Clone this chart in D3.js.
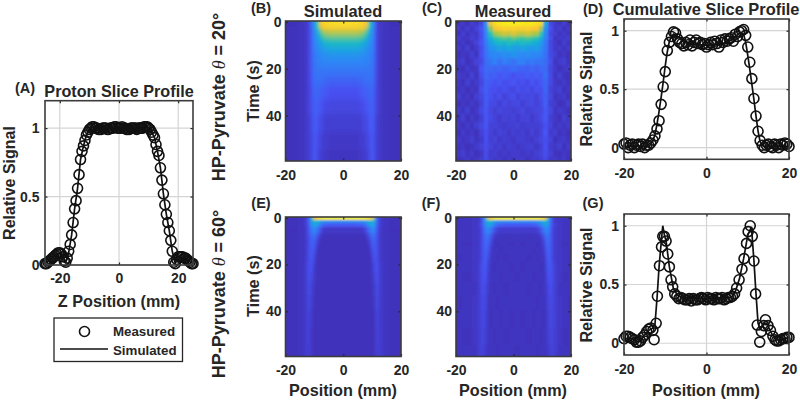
<!DOCTYPE html>
<html>
<head>
<meta charset="utf-8">
<script src="https://cdn.jsdelivr.net/npm/d3@7"></script>
<style>
  body { margin: 0; background: #fff; }
  svg text { font-family: "Liberation Sans", Arial, sans-serif; font-weight: bold; fill: #262626; }
  .tick text { font-size: 14px; }
</style>
</head>
<body>
<svg id="fig" width="800" height="402"></svg>
<script>
// (A) proton slice profile
const protonZ = [-25,-24.5,-24,-23.5,-23,-22.5,-22,-21.5,-21,-20.5,-20,-19.5,-19,-18.5,-18,-17.5,-17,-16.5,-16,-15.5,-15,-14.5,-14,-13.5,-13,-12.5,-12,-11.5,-11,-10.5,-10,-9.5,-9,-8.5,-8,-7.5,-7,-6.5,-6,-5.5,-5,-4.5,-4,-3.5,-3,-2.5,-2,-1.5,-1,-0.5,0,0.5,1,1.5,2,2.5,3,3.5,4,4.5,5,5.5,6,6.5,7,7.5,8,8.5,9,9.5,10,10.5,11,11.5,12,12.5,13,13.5,14,14.5,15,15.5,16,16.5,17,17.5,18,18.5,19,19.5,20,20.5,21,21.5,22,22.5,23,23.5,24,24.5,25];
const protonMeasured = [.01,.01,.02,.03,.04,.05,.06,.07,.08,.09,.09,.08,.06,.03,.02,.05,.1,.15,.22,.31,.41,.47,.56,.66,.77,.83,.87,.91,.95,.97,.99,1,1.01,1.01,1,1,.99,.99,.99,1,1,1,.99,.99,1,1,1,1.01,1.01,1,1,1,1.01,1,1,.99,.99,.99,1,1,1,1,.99,1,1,1,1,1.01,1.01,1.01,1,.99,.97,.95,.93,.88,.83,.8,.71,.62,.52,.44,.37,.31,.25,.18,.1,.02,.01,.04,.06,.06,.06,.06,.05,.05,.04,.03,.02,.01,.01];
const protonSimZ = [-25,-22,-20,-19,-18,-17,-16,-15,-14,-13,-12,-11,-10,-9,-5,0,5,9,10,11,12,13,14,15,16,17,18,19,20,22,25];
const protonSim = [.01,.06,.09,.06,.02,.09,.22,.41,.56,.77,.87,.95,.99,1.01,1,1,1,1.01,1,.97,.93,.83,.71,.52,.37,.25,.1,.01,.06,.05,.01];

// (D) cumulative slice profile, 20 deg
const cum20X = [-20,-19.5,-19,-18.5,-18,-17.5,-17,-16.5,-16,-15.5,-15,-14.5,-14,-13.5,-13,-12.5,-12,-11.5,-11,-10.5,-10,-9.5,-9,-8.5,-8,-7.5,-7,-6.5,-6,-5.5,-5,-4.5,-4,-3.5,-3,-2.5,-2,-1.5,-1,-0.5,0,0.5,1,1.5,2,2.5,3,3.5,4,4.5,5,5.5,6,6.5,7,7.5,8,8.5,9,9.5,10,10.5,11,11.5,12,12.5,13,13.5,14,14.5,15,15.5,16,16.5,17,17.5,18,18.5,19,19.5,20];
const cum20Measured = [.03,.04,.0,.02,.03,.0,.02,.03,.01,.03,.0,.02,.02,.04,.065,.1,.16,.23,.37,.52,.65,.83,.9,.95,.99,.98,.93,.9,.89,.87,.9,.88,.92,.87,.9,.92,.89,.9,.88,.89,.86,.88,.9,.88,.91,.89,.86,.92,.9,.93,.91,.93,.94,.91,.97,.95,.99,1.0,1.01,.96,.86,.73,.59,.42,.27,.14,.06,.02,.0,.02,.03,.01,.0,.03,.02,.0,.03,.02,.04,.03,.01];
const cum20SimX = [-20,-14,-13.5,-13,-12.5,-12,-11.5,-11,-10.5,-10,-9.5,-9,-8.5,-8,-7,-6,-4,0,4,6,7,8,8.5,9,9.5,10,10.5,11,11.5,12,12.5,13,13.5,14,20];
const cum20Sim = [.01,.01,.03,.06,.11,.2,.31,.43,.56,.7,.82,.91,.95,.97,.95,.92,.89,.875,.89,.92,.95,.98,.98,.97,.9,.79,.67,.54,.41,.27,.14,.05,.02,.01,.01];

// (G) cumulative slice profile, 60 deg
const cum60X = [-20,-19.5,-19,-18.5,-18,-17.5,-17,-16.5,-16,-15.5,-15,-14.5,-14,-13.5,-13,-12.7,-12.2,-11.9,-11.4,-10.9,-10.6,-10.2,-9.8,-9.4,-9,-8.6,-8.2,-7.7,-7.2,-6.7,-6.2,-5.7,-5.2,-4.7,-4.2,-3.7,-3.2,-2.7,-2.2,-1.7,-1.2,-.7,-.2,.3,.8,1.3,1.8,2.3,2.8,3.3,3.8,4.3,4.8,5.3,5.8,6.3,6.8,7.3,7.9,8.6,9.1,9.7,10.1,10.6,11.1,11.5,11.9,12.3,12.9,13.3,13.9,14.3,14.9,15.5,16.1,16.6,17,17.5,18,18.5,19,19.5,20];
const cum60Measured = [.04,.06,.06,.05,.04,.03,.01,.01,.02,.05,.07,.1,.12,.13,.11,.03,.17,.4,.66,.82,.91,.91,.87,.76,.65,.54,.48,.42,.4,.38,.39,.38,.37,.37,.38,.36,.38,.37,.37,.38,.39,.38,.37,.39,.38,.38,.37,.39,.38,.38,.39,.37,.38,.39,.39,.4,.42,.47,.54,.63,.72,.85,.95,1,.91,.7,.42,.155,.01,.1,.15,.2,.15,.11,.06,.03,.02,.02,.03,.04,.04,.05,.05];
const cum60SimX = [-20,-18,-17,-16,-15,-14,-13,-12.5,-12,-11.5,-11,-10.6,-10.2,-9.8,-9,-8,-7,-6,0,6,7,8,9,10,10.9,11.5,12,12.5,13,14,14.5,15,16,17,18,20];
const cum60Sim = [.04,.04,.01,.02,.07,.11,.13,.16,.38,.65,.85,1,.92,.87,.65,.46,.41,.39,.38,.39,.44,.55,.72,.92,.99,.7,.42,.17,.12,.17,.17,.14,.07,.03,.03,.05];

// heatmaps, values in percent of the colour range
const simHalfColumns = [-20,-17,-14.5,-13,-12,-11,-10,-9,-8,-7,-6,-4,-2,0];
const simTimes = [.5,1.5,3,5,7,9,11,14,17,21,25,30,36,43,51,58];
const sim20Half = [
  [3,3,4,5,8,18,30,50,76,84,88,90,91,91],
  [3,3,4,5,8,17,30,46,68,76,79,80,80,80],
  [3,3,4,5,8,17,28,40,58,68,71,72,72,72],
  [3,3,4,5,8,16,26,34,46,55,60,62,62,62],
  [3,3,4,5,8,16,25,31,39,45,48,50,50,50],
  [3,3,4,5,8,16,24,28,33,37,40,42,42,42],
  [3,3,4,5,8,15,23,26,29,32,34,36,36,36],
  [3,3,4,5,8,15,22,24,26,27,28,29,29,29],
  [3,3,4,5,8,15,21,23,24,24,25,25,25,25],
  [3,3,4,5,8,14,20,21,21,21,21,21,21,21],
  [3,3,4,5,8,13,19,19,19,18,17,16,16,16],
  [3,3,4,5,8,12,17,17,16,15,13,12,12,12],
  [3,3,4,5,8,11,16,15,13,11,10,9,9,9],
  [3,3,4,5,7,10,15,13,10,9,7,7,7,7],
  [3,3,4,5,7,9,14,11,8,7,6,5,5,5],
  [3,3,4,5,7,9,14,10,7,6,5,4,4,4]
];
const sim60Half = [
  [3,3,4,6,14,35,70,85,92,95,96,96,96,96],
  [3,3,4,6,14,30,40,38,32,28,27,26,26,26],
  [3,3,4,6,13,27,34,30,22,17,15,14,14,14],
  [3,3,4,5,12,22,25,20,11,6,5,5,5,5],
  [3,3,4,5,11,18,20,14,6,3,3,3,3,3],
  [3,3,4,5,10,17,17,9,4,3,3,3,3,3],
  [3,3,4,5,10,16,14,6,3,3,3,3,3,3],
  [3,3,4,5,10,15,11,4,3,3,3,3,3,3],
  [3,3,4,5,10,14,8,3,3,3,3,3,3,3],
  [3,3,4,6,11,12,6,3,3,3,3,3,3,3],
  [3,3,4,6,11,10,5,3,3,3,3,3,3,3],
  [3,3,4,6,10,8,4,3,3,3,3,3,3,3],
  [3,3,4,6,9,7,3,3,3,3,3,3,3,3],
  [3,3,4,6,8,6,3,3,3,3,3,3,3,3],
  [3,3,4,6,8,5,3,3,3,3,3,3,3,3],
  [3,3,4,6,7,5,3,3,3,3,3,3,3,3]
];

const meas20Columns = [-19.2,-17.6,-16,-14.4,-12.8,-11.2,-9.6,-8,-6.4,-4.8,-3.2,-1.6,0,1.6,3.2,4.8,6.4,8,9.6,11.2,12.8,14.4,16,17.6,19.2];
const meas20Times = [1,3,5,7,9,11,14,17,20,23,26,29,32,35,38,41,44,47,50,53,56,59];
const meas20 = [
  [4,6,3,7,5,9,30,72,88,92,93,94,95,94,93,92,93,90,85,35,10,6,4,7,3],
  [6,3,7,4,8,13,28,58,74,78,82,80,83,80,79,82,78,75,62,28,12,5,7,3,6],
  [3,7,4,6,5,12,25,46,60,64,68,66,70,66,65,68,64,62,48,26,9,7,4,6,4],
  [7,4,5,8,6,11,24,38,46,50,54,50,55,52,50,53,50,46,38,24,11,4,6,5,7],
  [4,6,3,5,8,13,22,32,38,42,40,44,42,40,43,41,40,36,32,22,9,6,3,7,4],
  [6,4,7,3,6,11,21,28,30,34,32,36,33,31,34,32,30,32,27,21,10,5,6,4,6],
  [3,5,4,7,4,12,20,24,26,25,28,26,29,27,25,27,26,25,24,20,10,7,4,5,3],
  [5,7,3,5,8,10,19,21,24,20,23,22,20,23,24,21,22,20,21,19,11,4,6,7,4],
  [4,3,6,4,5,13,18,18,17,18,16,17,19,17,17,16,18,16,18,18,9,6,3,5,6],
  [6,5,4,8,4,11,18,15,16,13,15,14,12,14,13,15,13,15,14,19,10,4,7,4,3],
  [5,3,7,4,6,9,16,14,12,14,11,12,13,11,12,10,13,11,14,17,10,5,4,6,4],
  [4,6,3,5,4,11,16,12,12,10,12,10,9,12,10,11,9,12,11,17,8,6,7,3,5],
  [7,4,5,3,7,9,15,12,9,11,8,10,11,8,10,9,10,8,11,15,9,4,5,6,3],
  [3,5,4,6,4,8,15,10,10,7,10,8,9,10,7,9,10,8,10,15,7,6,3,4,7],
  [6,4,7,3,5,10,14,9,7,9,8,8,7,8,9,7,8,9,9,14,9,4,6,5,3],
  [4,7,3,6,4,7,13,10,8,6,8,7,8,6,8,8,6,8,10,14,7,5,3,7,5],
  [5,3,6,4,7,9,13,8,8,7,6,7,7,8,6,7,7,7,8,12,8,4,6,4,6],
  [3,6,4,5,3,8,12,8,6,8,7,5,7,6,7,5,8,6,8,13,6,7,4,5,3],
  [6,4,5,7,4,6,12,7,8,5,7,6,5,7,7,6,5,7,9,11,8,3,5,6,4],
  [4,5,3,4,6,8,11,8,6,7,5,7,6,5,6,7,7,5,7,12,6,5,7,3,6],
  [5,7,4,6,3,5,11,6,7,5,6,5,6,6,5,6,5,7,8,11,7,4,3,5,4],
  [3,4,6,3,5,7,10,7,5,6,4,6,5,6,6,4,6,6,7,10,5,6,4,6,3]
];

const meas60Columns = [-20,-16,-13.2,-11.7,-10.7,-9.7,-8.7,-7.7,-6.7,-5.7,-4.7,-2.7,-0.7,1.3,3.3,5.3,7.3,8.3,9.3,10.3,11.3,12.3,13.3,14.3,15.8,18,20];
const meas60Half = [
  [4,4,5,6,14,35,70,85,92,95,96,96,96,96],
  [4,4,5,6,14,30,40,38,32,28,27,26,26,26],
  [4,4,5,7,13,27,34,30,22,17,15,14,14,14],
  [4,4,5,6,12,23,26,20,11,7,6,6,6,6],
  [4,4,5,6,11,20,21,14,6,4,4,4,4,4],
  [4,4,5,6,11,19,18,9,4,4,4,3,4,4],
  [4,3,5,6,11,18,15,7,4,3,4,4,3,4],
  [4,4,5,6,11,17,12,5,4,4,3,4,4,4],
  [3,4,5,6,11,16,9,4,4,3,4,3,4,4],
  [4,4,5,7,12,14,7,4,3,4,4,4,3,4],
  [4,3,5,7,12,12,6,4,4,4,3,4,4,3],
  [4,4,4,7,11,10,5,4,3,4,4,3,4,4],
  [3,4,5,7,10,9,4,4,4,3,4,4,4,4],
  [4,4,5,7,10,8,4,3,4,4,3,4,3,4],
  [4,3,5,7,9,7,4,4,3,4,4,3,4,4],
  [4,4,4,7,8,6,4,4,4,3,4,4,4,3]
];

// parula
const parulaStops = [0,12.5,25,37.5,50,62.5,75,87.5,100];
const parulaColors = ["#3E26A8","#4752F4","#2D87F7","#12B1D6","#37C897","#ABC739","#FEC338","#F5DC24","#F9FB15"];

const xTicks = [-20,0,20];
const timeTicks = [0,20,40];
const signalTicks = [0,0.5,1];

const svg = d3.select("#fig");
const color = d3.scaleLinear().domain(parulaStops).range(parulaColors);
const mirror = row => row.concat(row.slice(0, -1).reverse());
const simColumns = simHalfColumns.concat(simHalfColumns.slice(0, -1).reverse().map(d => -d));

const defs = svg.append("defs");
function blurFilter(id, sx, sy) {
  defs.append("filter").attr("id", id)
    .append("feGaussianBlur").attr("stdDeviation", `${sx} ${sy}`);
}
blurFilter("blurSoft", 1.6, 3);
blurFilter("blurBody", 1.4, 3.5);
blurFilter("blurThin", 1.4, 0.9);
blurFilter("blurNoise", 1.3, 1.5);

function styleAxis(g) {
  g.selectAll(".domain").remove();
  g.selectAll(".tick line").attr("stroke", "#262626").attr("stroke-width", 1.2);
  g.selectAll(".tick text").attr("fill", "#262626");
}

function frameAndTicks(box, x, y, xt, yt, padX, padY) {
  const g = svg.append("g");
  g.append("g").attr("transform", `translate(0,${box.bottom})`)
    .call(d3.axisBottom(x).tickValues(xt).tickSizeInner(-2.5).tickSizeOuter(0).tickPadding(padX).tickFormat(d => String(d)))
    .call(styleAxis);
  g.append("g").attr("transform", `translate(${box.left},0)`)
    .call(d3.axisLeft(y).tickValues(yt).tickSizeInner(-2.5).tickSizeOuter(0).tickPadding(padY).tickFormat(d => String(d)))
    .call(styleAxis);
  g.append("g").attr("transform", `translate(0,${box.top})`)
    .call(d3.axisTop(x).tickValues(xt).tickSizeInner(-2.5).tickSizeOuter(0).tickFormat(""))
    .call(styleAxis);
  g.append("g").attr("transform", `translate(${box.right},0)`)
    .call(d3.axisRight(y).tickValues(yt).tickSizeInner(-2.5).tickSizeOuter(0).tickFormat(""))
    .call(styleAxis);
  g.append("rect").attr("x", box.left).attr("y", box.top)
    .attr("width", box.right - box.left).attr("height", box.bottom - box.top)
    .attr("fill", "none").attr("stroke", "#3c3c3c").attr("stroke-width", 1.6);
}

// cell edges sit half way between the column/row centres
function edges(c) {
  const e = [c[0] - 6];
  for (let i = 1; i < c.length; i++) e.push((c[i - 1] + c[i]) / 2);
  e.push(c[c.length - 1] + 6);
  return e;
}

function heatmap(id, box, columns, times, values, blur, sharpRows, sharpBlur) {
  const x = d3.scaleLinear().domain([-20, 20]).range([box.left, box.right]);
  const y = d3.scaleLinear().domain([-0.3, 59.3]).range([box.top, box.bottom]);
  const xe = edges(columns), ye = edges(times);

  defs.append("clipPath").attr("id", "clip" + id).append("rect")
    .attr("x", box.left).attr("y", box.top)
    .attr("width", box.right - box.left).attr("height", box.bottom - box.top);

  const cells = [];
  values.forEach((row, r) => row.forEach((v, c) => cells.push({ r, c, v })));
  const clipped = svg.append("g").attr("clip-path", `url(#clip${id})`);

  function drawCells(data, filter) {
    clipped.append("g").attr("filter", `url(#${filter})`)
      .selectAll("rect")
      .data(data)
      .join("rect")
      .attr("x", d => x(xe[d.c]))
      .attr("y", d => y(ye[d.r]))
      .attr("width", d => x(xe[d.c + 1]) - x(xe[d.c]) + 0.5)
      .attr("height", d => y(ye[d.r + 1]) - y(ye[d.r]) + 0.5)
      .attr("fill", d => color(d.v))
      .attr("shape-rendering", "crispEdges");
  }
  drawCells(cells, blur);
  // the first rows change fast, keep them sharp over the smoothed body
  if (sharpRows) drawCells(cells.filter(d => d.r < sharpRows), sharpBlur);

  frameAndTicks(box, x, y, xTicks, timeTicks, 9, 4);
}

function profile(box, xDomain, yDomain, xt, measX, measY, simX, simY, padX, padY) {
  const x = d3.scaleLinear().domain(xDomain).range([box.left, box.right]);
  const y = d3.scaleLinear().domain(yDomain).range([box.bottom, box.top]);

  // gridlines
  svg.append("g").selectAll("line").data(xt).join("line")
    .attr("x1", d => x(d)).attr("x2", d => x(d))
    .attr("y1", box.top).attr("y2", box.bottom)
    .attr("stroke", "#d4d4d4").attr("stroke-width", 1.2);
  svg.append("g").selectAll("line").data(signalTicks).join("line")
    .attr("x1", box.left).attr("x2", box.right)
    .attr("y1", d => y(d)).attr("y2", d => y(d))
    .attr("stroke", "#d4d4d4").attr("stroke-width", 1.2);

  svg.append("path")
    .datum(simX.map((d, i) => [d, simY[i]]))
    .attr("fill", "none").attr("stroke", "#111").attr("stroke-width", 1.7)
    .attr("d", d3.line().x(d => x(d[0])).y(d => y(d[1])));

  svg.append("g").selectAll("circle")
    .data(measX.map((d, i) => [d, measY[i]]))
    .join("circle")
    .attr("cx", d => x(d[0])).attr("cy", d => y(d[1])).attr("r", 5)
    .attr("fill", "none").attr("stroke", "#111").attr("stroke-width", 1.6);

  frameAndTicks(box, x, y, xt, signalTicks, padX, padY);
}

const boxB = { left: 285.5, right: 401, top: 21, bottom: 161 };
const boxC = { left: 456, right: 571, top: 21, bottom: 161 };
const boxE = { left: 285.5, right: 401, top: 217, bottom: 356.5 };
const boxF = { left: 456, right: 571, top: 217, bottom: 356.5 };

heatmap("B", boxB, simColumns, simTimes, sim20Half.map(mirror), "blurSoft", 2, "blurSoft");
heatmap("C", boxC, meas20Columns, meas20Times, meas20, "blurNoise", 0);
heatmap("E", boxE, simColumns, simTimes, sim60Half.map(mirror), "blurBody", 4, "blurThin");
heatmap("F", boxF, meas60Columns, simTimes, meas60Half.map(mirror), "blurBody", 4, "blurThin");

profile({ left: 45, right: 193, top: 100.7, bottom: 265 }, [-25, 25], [0, 1.2], xTicks, protonZ, protonMeasured, protonSimZ, protonSim, 8, 5.5);
profile({ left: 624, right: 789, top: 19, bottom: 159.3 }, [-20, 20], [-0.1, 1.1], xTicks, cum20X, cum20Measured, cum20SimX, cum20Sim, 9, 5);
profile({ left: 624, right: 789, top: 214, bottom: 355 }, [-20, 20], [-0.1, 1.1], xTicks, cum60X, cum60Measured, cum60SimX, cum60Sim, 9, 5);

function label(txt, x, y, size, rotate) {
  const t = svg.append("text").attr("font-size", size).attr("text-anchor", "middle").text(txt);
  if (rotate) t.attr("transform", `translate(${x},${y}) rotate(-90)`);
  else t.attr("x", x).attr("y", y);
  return t;
}

// panel letters
[["(A)", 25, 93], ["(B)", 261, 13], ["(C)", 432, 13], ["(D)", 593, 14], ["(E)", 261, 208], ["(F)", 431, 208], ["(G)", 593, 208]]
  .forEach(d => label(d[0], d[1], d[2], 14.5));

// titles
label("Proton Slice Profile", 119, 97, 16.2);
label("Simulated", 343, 17, 16.4);
label("Measured", 513, 17, 16.4);
label("Cumulative Slice Profile", 706, 15, 16.4);

// axis labels
label("Relative Signal", 15, 183, 16, true);
label("Relative Signal", 592, 89, 16.2, true);
label("Relative Signal", 592, 285, 16.2, true);
label("Time (s)", 259, 91, 16.2, true);
label("Time (s)", 259, 286, 16.2, true);
label("Z Position (mm)", 119, 307, 16.2);
label("Position (mm)", 343, 396, 16.2);
label("Position (mm)", 513, 396, 16.2);
label("Position (mm)", 706, 396, 16.2);

// row labels
function rowLabel(angle, x, y) {
  const t = label("", x, y, 18, true);
  t.append("tspan").text("HP-Pyruvate ");
  t.append("tspan").attr("font-style", "italic").attr("font-family", "Liberation Serif").attr("font-weight", "normal").text("\u03B8");
  t.append("tspan").text(" = " + angle + "\u00B0");
}
rowLabel(20, 225, 97);
rowLabel(60, 225, 294);

// legend
const legend = svg.append("g");
legend.append("rect").attr("x", 54).attr("y", 318).attr("width", 128.5).attr("height", 43.5)
  .attr("fill", "#fff").attr("stroke", "#262626").attr("stroke-width", 1.3);
legend.append("circle").attr("cx", 84.5).attr("cy", 331.5).attr("r", 5)
  .attr("fill", "none").attr("stroke", "#111").attr("stroke-width", 1.6);
legend.append("line").attr("x1", 60).attr("x2", 108).attr("y1", 349).attr("y2", 349)
  .attr("stroke", "#111").attr("stroke-width", 1.6);
legend.append("text").attr("x", 113).attr("y", 336).attr("font-size", 13.3).text("Measured");
legend.append("text").attr("x", 113).attr("y", 355).attr("font-size", 13.3).text("Simulated");
</script>
</body>
</html>
